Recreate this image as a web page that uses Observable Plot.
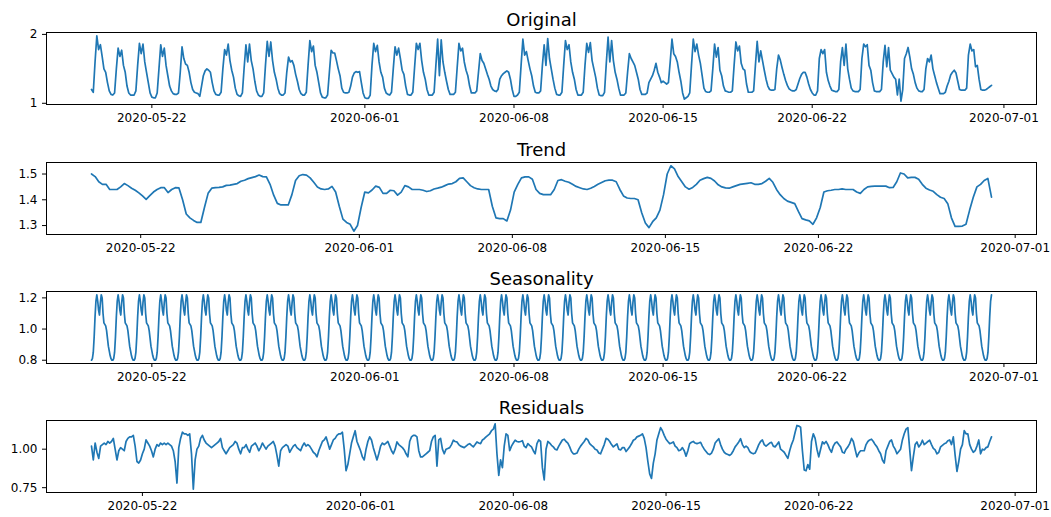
<!DOCTYPE html>
<html>
<head>
<meta charset="utf-8">
<script src="https://cdn.jsdelivr.net/npm/d3@7"></script>
<script src="https://cdn.jsdelivr.net/npm/@observablehq/plot@0.6"></script>
<style>
  body { margin: 0; background: #fff; }
  #chart { position: relative; width: 1051px; height: 517px; font-family: "DejaVu Sans", sans-serif; }
  #chart .panel { position: absolute; left: 0; }
  #chart svg { display: block; }
</style>
</head>
<body>
<div id="chart"></div>
<script>
// ---------------- data ----------------
const panelTitles = ["Original", "Trend", "Seasonality", "Residuals"];
const xTickDates = ["2020-05-22", "2020-06-01", "2020-06-08", "2020-06-15", "2020-06-22", "2020-07-01"];

const originalYTicks = [1, 2];
const trendYTicks = [1.3, 1.4, 1.5];
const seasonalYTicks = [0.8, 1.0, 1.2];
const residualYTicks = [0.75, 1.0];

// Original series: every 2 hours from 2020-05-19 04:00 (one day per row, hours 0,2,...,22)
const originalStart = "2020-05-19T04:00:00Z";
const originalStepHours = 2;
const originalValues = [
  1.20,1.16,1.60,1.98,1.78,1.85,1.68,1.50,1.45,1.30,
  1.18,1.13,1.12,1.15,1.50,1.80,1.68,1.77,1.55,1.45,1.25,1.15,
  1.12,1.12,1.12,1.18,1.55,1.87,1.72,1.86,1.60,1.45,1.30,1.15,
  1.09,1.08,1.08,1.15,1.50,1.85,1.68,1.80,1.55,1.40,1.25,1.18,
  1.14,1.13,1.13,1.15,1.45,1.82,1.65,1.57,1.55,1.45,1.30,1.20,
  1.16,1.15,1.14,1.10,1.25,1.40,1.47,1.50,1.48,1.45,1.30,1.18,
  1.13,1.12,1.12,1.16,1.50,1.78,1.70,1.86,1.62,1.48,1.38,1.22,
  1.13,1.11,1.10,1.15,1.52,1.85,1.60,1.86,1.62,1.50,1.32,1.18,
  1.12,1.10,1.10,1.15,1.55,1.90,1.68,1.89,1.62,1.45,1.35,1.22,
  1.14,1.12,1.12,1.15,1.45,1.67,1.60,1.62,1.55,1.42,1.32,1.20,
  1.14,1.12,1.12,1.16,1.55,1.91,1.75,1.83,1.55,1.45,1.30,1.15,
  1.09,1.08,1.08,1.12,1.45,1.77,1.73,1.73,1.62,1.50,1.40,1.22,
  1.16,1.15,1.15,1.16,1.25,1.38,1.44,1.46,1.45,1.46,1.30,1.15,
  1.08,1.07,1.07,1.12,1.55,1.87,1.75,1.84,1.60,1.45,1.38,1.22,
  1.15,1.13,1.12,1.16,1.50,1.82,1.70,1.80,1.65,1.48,1.42,1.25,
  1.13,1.12,1.12,1.16,1.52,1.87,1.78,1.87,1.62,1.45,1.35,1.20,
  1.12,1.12,1.12,1.16,1.55,1.93,1.40,1.92,1.60,1.45,1.32,1.20,
  1.13,1.13,1.13,1.16,1.52,1.87,1.76,1.80,1.60,1.48,1.40,1.25,
  1.15,1.15,1.15,1.18,1.45,1.72,1.62,1.58,1.50,1.42,1.35,1.25,
  1.20,1.18,1.17,1.20,1.35,1.40,1.43,1.45,1.47,1.45,1.35,1.20,
  1.10,1.10,1.12,1.16,1.55,1.93,1.70,1.75,1.62,1.50,1.40,1.25,
  1.16,1.15,1.15,1.18,1.55,1.85,1.55,1.94,1.65,1.50,1.35,1.22,
  1.13,1.12,1.12,1.16,1.55,1.91,1.78,1.85,1.60,1.45,1.35,1.20,
  1.12,1.12,1.12,1.16,1.55,1.87,1.74,1.88,1.62,1.50,1.38,1.22,
  1.12,1.11,1.11,1.16,1.58,1.96,1.60,1.91,1.62,1.45,1.35,1.22,
  1.12,1.12,1.12,1.15,1.45,1.72,1.65,1.60,1.55,1.45,1.35,1.20,
  1.13,1.13,1.13,1.15,1.30,1.35,1.40,1.48,1.58,1.45,1.38,1.30,
  1.32,1.30,1.28,1.30,1.60,1.93,1.72,1.68,1.60,1.45,1.32,1.15,
  1.06,1.08,1.10,1.15,1.55,1.93,1.75,1.86,1.70,1.58,1.40,1.22,
  1.17,1.16,1.16,1.18,1.50,1.86,1.67,1.81,1.48,1.40,1.25,1.18,
  1.17,1.16,1.16,1.18,1.55,1.89,1.76,1.83,1.58,1.50,1.48,1.28,
  1.16,1.16,1.16,1.18,1.55,1.90,1.60,1.76,1.62,1.48,1.35,1.25,
  1.20,1.19,1.19,1.20,1.50,1.70,1.63,1.52,1.42,1.33,1.26,1.21,
  1.19,1.18,1.18,1.20,1.28,1.36,1.42,1.45,1.45,1.38,1.28,1.20,
  1.15,1.12,1.12,1.18,1.65,1.78,1.72,1.78,1.45,1.33,1.25,1.19,
  1.18,1.17,1.17,1.20,1.60,1.81,1.55,1.86,1.50,1.35,1.22,1.18,
  1.17,1.17,1.17,1.20,1.65,1.86,1.82,1.85,1.55,1.48,1.30,1.18,
  1.17,1.17,1.17,1.20,1.60,1.84,1.53,1.81,1.48,1.43,1.38,1.35,
  1.12,1.35,1.03,1.20,1.65,1.72,1.81,1.67,1.50,1.42,1.30,1.22,
  1.18,1.17,1.17,1.20,1.50,1.65,1.60,1.70,1.50,1.40,1.30,1.22,
  1.14,1.14,1.14,1.16,1.25,1.32,1.41,1.45,1.48,1.44,1.32,1.20,
  1.19,1.19,1.19,1.22,1.70,1.86,1.76,1.78,1.53,1.55,1.35,1.20,
  1.19,1.19,1.20,1.22,1.24,1.26
];

// Trend: every 4 hours from 2020-05-19 18:00
const trendStart = "2020-05-19T18:00:00Z";
const trendStepHours = 4;
const trendValues = [
  1.50,1.49,1.47,1.46,1.46,1.44,1.44,1.44,1.45,1.463,
  1.455,1.445,1.437,1.427,1.415,1.402,1.416,1.43,1.44,1.447,
  1.447,1.428,1.44,1.447,1.446,1.40,1.345,1.33,1.32,1.312,
  1.312,1.37,1.425,1.445,1.447,1.448,1.45,1.456,1.457,1.46,
  1.463,1.472,1.476,1.482,1.486,1.49,1.496,1.49,1.489,1.46,
  1.418,1.386,1.38,1.38,1.38,1.42,1.475,1.493,1.498,1.496,
  1.485,1.468,1.45,1.442,1.44,1.442,1.452,1.43,1.375,1.325,
  1.312,1.305,1.278,1.30,1.37,1.43,1.427,1.438,1.453,1.448,
  1.425,1.425,1.437,1.435,1.418,1.43,1.455,1.45,1.44,1.44,
  1.44,1.437,1.432,1.435,1.442,1.445,1.449,1.455,1.461,1.463,
  1.47,1.483,1.485,1.47,1.455,1.447,1.442,1.44,1.44,1.44,
  1.375,1.33,1.327,1.327,1.318,1.36,1.43,1.46,1.485,1.489,
  1.489,1.48,1.44,1.425,1.42,1.42,1.42,1.44,1.475,1.478,
  1.472,1.468,1.46,1.452,1.447,1.442,1.44,1.445,1.452,1.46,
  1.467,1.474,1.476,1.476,1.47,1.44,1.415,1.407,1.405,1.405,
  1.40,1.35,1.31,1.292,1.315,1.33,1.36,1.42,1.50,1.532,
  1.52,1.49,1.47,1.45,1.441,1.448,1.46,1.476,1.482,1.487,
  1.483,1.473,1.458,1.45,1.446,1.445,1.45,1.455,1.46,1.462,
  1.464,1.466,1.46,1.46,1.463,1.472,1.483,1.468,1.44,1.42,
  1.405,1.395,1.39,1.385,1.355,1.327,1.322,1.318,1.305,1.33,
  1.37,1.43,1.435,1.437,1.44,1.44,1.442,1.44,1.44,1.44,
  1.43,1.425,1.44,1.45,1.452,1.453,1.453,1.453,1.453,1.447,
  1.448,1.47,1.504,1.50,1.485,1.487,1.487,1.48,1.46,1.445,
  1.438,1.433,1.42,1.41,1.405,1.385,1.33,1.297,1.297,1.298,
  1.305,1.36,1.41,1.45,1.46,1.475,1.483,1.41
];

// Seasonality: one daily profile (hours 0..23), repeated every day
const seasonalStart = "2020-05-19T04:00:00Z";
const seasonalEnd = "2020-06-30T10:00:00Z";
const seasonalProfile = [
  0.86,0.83,0.81,0.80,0.80,0.81,0.85,0.95,1.08,1.18,1.22,1.18,
  1.12,1.09,1.17,1.22,1.20,1.10,1.04,1.03,1.02,0.99,0.94,0.89
];

// Residuals: every 2 hours from 2020-05-19 16:00
const residualStart = "2020-05-19T16:00:00Z";
const residualStepHours = 2;
const residualValues = [
  1.02,0.93,1.04,0.98,0.94,1.02,1.03,1.04,1.03,1.05,
  1.04,1.05,1.07,1.00,0.93,0.99,1.01,1.00,0.99,1.05,
  1.07,1.08,1.08,1.09,1.02,0.92,0.91,0.93,0.97,1.00,
  1.06,1.04,1.02,0.99,0.95,1.00,1.03,1.02,1.04,1.03,
  1.04,1.03,1.04,1.03,1.02,0.99,0.92,0.78,1.01,1.07,
  1.11,1.10,1.10,1.09,1.10,0.97,0.74,0.93,1.00,1.02,
  1.07,1.09,1.06,1.04,1.03,1.02,1.01,1.02,1.03,1.04,
  1.05,1.07,1.01,0.99,0.97,0.99,1.01,1.02,1.03,1.05,
  1.04,1.00,0.97,1.01,1.01,1.03,1.00,0.98,1.02,1.03,
  1.04,1.02,0.99,1.01,1.04,1.02,1.00,1.02,1.03,1.04,
  1.05,1.02,0.96,0.89,0.99,1.01,1.02,1.03,1.02,0.98,
  1.00,1.02,1.03,1.01,1.00,0.99,1.02,1.04,1.02,1.03,
  1.02,1.00,0.98,0.97,0.95,0.99,1.02,1.05,1.06,1.08,
  1.04,1.00,1.03,1.06,1.07,1.09,1.10,1.10,1.11,1.00,
  0.86,0.90,0.97,1.04,1.08,1.12,1.05,1.02,0.99,0.95,
  0.93,1.00,1.05,1.08,1.06,1.01,0.97,0.93,0.97,
  1.02,1.04,1.03,1.04,1.05,1.02,0.99,0.97,1.00,1.047,
  1.03,1.02,1.01,0.995,0.97,0.95,1.05,1.08,1.09,1.09,
  1.08,0.99,0.95,0.95,0.96,0.97,0.98,0.99,1.05,1.08,
  1.09,0.89,1.06,1.07,1.00,0.97,1.00,1.005,1.01,1.03,
  1.058,1.05,1.047,1.03,1.02,1.015,1.01,1.02,1.03,1.036,
  1.025,1.015,1.03,1.047,1.04,1.036,1.06,1.068,1.08,1.09,
  1.10,1.12,1.13,1.165,0.97,0.83,0.93,0.88,1.02,1.10,
  1.09,0.99,1.02,1.04,1.058,1.05,1.047,1.05,1.055,1.02,
  1.01,1.036,1.025,1.015,0.99,0.97,1.036,1.06,1.05,0.88,
  0.80,1.00,1.05,1.04,1.025,1.015,1.00,0.995,1.02,1.04,
  1.06,1.065,1.05,1.04,1.015,0.985,0.97,0.97,0.975,1.00,
  1.02,1.035,1.05,1.07,1.06,1.036,1.025,1.015,1.00,0.995,
  0.975,0.97,1.00,1.03,1.07,1.065,1.05,1.03,1.015,1.025,
  1.035,1.00,0.995,1.01,1.01,0.985,1.00,1.015,1.035,1.058,
  1.065,1.08,1.085,1.09,1.10,1.07,1.01,0.92,0.84,0.81,
  0.91,0.97,1.06,1.10,1.14,1.12,1.09,1.065,1.05,1.036,
  1.04,1.047,1.02,1.01,0.99,0.995,1.01,0.99,0.955,0.99,
  1.036,1.045,1.05,1.04,1.036,1.04,1.045,1.02,1.00,0.985,
  0.97,0.965,
  0.975,1.00,1.04,1.055,1.068,1.03,1.00,0.98,0.97,0.965,
  0.96,0.97,0.99,1.015,1.03,1.047,1.068,1.03,1.01,1.02,
  1.01,0.985,0.975,0.97,0.975,1.00,1.03,1.05,1.06,1.03,
  1.02,1.03,1.04,1.045,1.02,1.015,1.03,1.047,1.00,0.99,
  0.98,0.96,0.94,0.99,1.03,1.06,1.11,1.154,1.15,1.143,
  0.99,0.865,0.86,0.90,0.87,1.05,1.10,1.07,1.00,0.95,
  1.00,1.047,1.035,1.05,1.03,1.00,0.98,1.02,1.04,1.047,
  1.03,1.015,0.98,0.975,1.00,1.015,1.036,1.07,1.05,1.00,
  0.95,0.975,0.99,0.99,0.99,1.03,1.05,1.06,1.065,1.05,
  1.03,1.015,0.99,0.97,0.93,0.91,0.99,1.02,1.05,1.06,
  1.02,1.00,0.97,0.985,1.00,1.06,1.10,1.13,1.14,1.00,
  0.86,0.95,1.03,1.047,1.015,1.03,1.058,1.03,1.04,1.05,
  1.058,1.03,1.005,0.995,0.97,0.98,1.015,1.025,1.035,1.04,
  1.055,1.06,1.03,1.08,0.96,0.855,0.92,1.00,1.03,1.12,
  1.10,1.10,1.03,1.00,0.98,0.99,1.02,1.06,0.97,1.00,
  0.995,1.01,1.015,1.05,1.08
];

// ---------------- build tables ----------------
const HOUR = 3600 * 1000;
function regular(startIso, stepHours, values) {
  const t0 = Date.parse(startIso);
  return values.map((v, i) => ({ t: new Date(t0 + i * stepHours * HOUR), v }));
}
const originalData = regular(originalStart, originalStepHours, originalValues);
const trendData = regular(trendStart, trendStepHours, trendValues);
const residualData = regular(residualStart, residualStepHours, residualValues);
const seasonalData = [];
for (let t = Date.parse(seasonalStart); t <= Date.parse(seasonalEnd); t += HOUR) {
  seasonalData.push({ t: new Date(t), v: seasonalProfile[new Date(t).getUTCHours()] });
}

// matplotlib-like autoscale: 5% margin on each side
function padded(values) {
  const [a, b] = d3.extent(values, d => +d);
  const m = (b - a) * 0.05;
  return [a - m, b + m];
}
function paddedDates(data) {
  const [a, b] = padded(data.map(d => d.t));
  return [new Date(a), new Date(b)];
}

const xTicks = xTickDates.map(s => new Date(s + "T00:00:00Z"));
const fmtDate = d3.utcFormat("%Y-%m-%d");

const panels = [
  { title: panelTitles[0], data: originalData, yTicks: originalYTicks, fmt: d3.format("d") },
  { title: panelTitles[1], data: trendData, yTicks: trendYTicks, fmt: d3.format(".1f") },
  { title: panelTitles[2], data: seasonalData, yTicks: seasonalYTicks, fmt: d3.format(".1f") },
  { title: panelTitles[3], data: residualData, yTicks: residualYTicks, fmt: d3.format(".2f") }
];

const chart = document.getElementById("chart");
const panelTops = [0, 130, 259, 388];

panels.forEach((p, i) => {
  const svg = Plot.plot({
    width: 1051,
    height: 129,
    marginLeft: 46,
    marginRight: 15,
    marginTop: 32,
    marginBottom: 25,
    style: { fontFamily: "DejaVu Sans, sans-serif", fontSize: "12px", color: "#000", background: "transparent", overflow: "visible" },
    x: { type: "utc", domain: paddedDates(p.data) },
    y: { domain: padded(p.data.map(d => d.v)) },
    marks: [
      Plot.axisX({ ticks: xTicks, tickFormat: fmtDate, tickSize: 4, tickPadding: 5, label: null, fontSize: 12 }),
      Plot.axisY({ ticks: p.yTicks, tickFormat: p.fmt, tickSize: 4, tickPadding: 5, label: null, fontSize: 12 }),
      Plot.lineY(p.data, { x: "t", y: "v", stroke: "#1f77b4", strokeWidth: 1.7 }),
      Plot.frame({ stroke: "#000", strokeWidth: 1 }),
      Plot.text([p.title], { frameAnchor: "top", lineAnchor: "bottom", dy: -7, fontSize: 18, fill: "#000" })
    ]
  });
  const wrap = document.createElement("div");
  wrap.className = "panel";
  wrap.style.top = panelTops[i] + "px";
  wrap.appendChild(svg);
  chart.appendChild(wrap);
});
</script>
</body>
</html>
